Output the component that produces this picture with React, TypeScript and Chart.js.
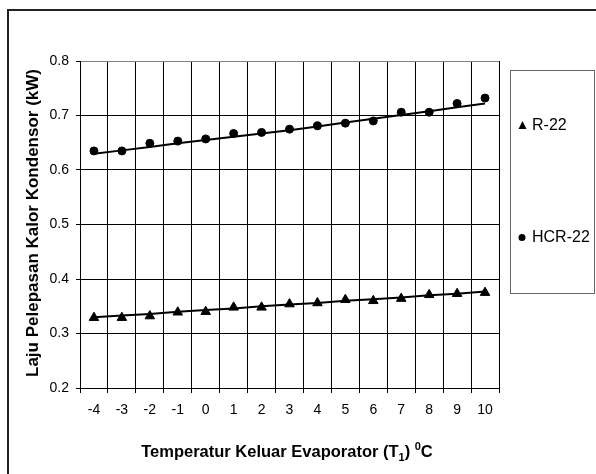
import React, { useEffect, useRef } from "react";
import { Chart, registerables } from "chart.js";

Chart.register(...registerables);

const categories = ["-4", "-3", "-2", "-1", "0", "1", "2", "3", "4", "5", "6", "7", "8", "9", "10"];
const r22Values = [0.329, 0.329, 0.332, 0.339, 0.340, 0.348, 0.348, 0.354, 0.356, 0.362, 0.360, 0.364, 0.371, 0.373, 0.375];
const hcr22Values = [0.635, 0.635, 0.649, 0.653, 0.657, 0.667, 0.669, 0.675, 0.681, 0.686, 0.690, 0.706, 0.706, 0.722, 0.732];
const r22Trend = [0.330, 0.333, 0.336, 0.340, 0.343, 0.346, 0.350, 0.353, 0.356, 0.360, 0.363, 0.366, 0.370, 0.373, 0.377];
const hcr22Trend = [0.630, 0.636, 0.642, 0.649, 0.655, 0.661, 0.667, 0.673, 0.680, 0.687, 0.694, 0.701, 0.708, 0.715, 0.722];
const yMin = 0.2;
const yMax = 0.8;
const yStep = 0.1;
const seriesNames = ["R-22", "HCR-22"];
const yTitle = "Laju Pelepasan Kalor Kondensor (kW)";
const xTitleMain = "Temperatur Keluar Evaporator (T";
const xTitleSub = "1";
const xTitleMid = ") ";
const xTitleSup = "0";
const xTitleEnd = "C";

const FONT = "'Liberation Sans', Arial, sans-serif";

const decorPlugin = {
  id: "decor",
  afterDraw(chart: any) {
    const ctx = chart.ctx as CanvasRenderingContext2D;
    ctx.save();
    // outer frame (left + top edges visible)
    ctx.strokeStyle = "#222";
    ctx.lineWidth = 2;
    ctx.beginPath();
    ctx.moveTo(8, 600);
    ctx.lineTo(8, 10);
    ctx.lineTo(700, 10);
    ctx.stroke();

    // legend box
    ctx.strokeStyle = "#666";
    ctx.lineWidth = 1;
    ctx.strokeRect(510.5, 70.5, 84, 223);

    ctx.fillStyle = "#000";
    // triangle marker
    ctx.beginPath();
    ctx.moveTo(522.5, 121);
    ctx.lineTo(526.5, 129);
    ctx.lineTo(518.5, 129);
    ctx.closePath();
    ctx.fill();
    // circle marker
    ctx.beginPath();
    ctx.arc(522, 237.5, 3.5, 0, Math.PI * 2);
    ctx.fill();

    ctx.font = `16px ${FONT}`;
    ctx.textBaseline = "middle";
    ctx.textAlign = "left";
    ctx.fillText(seriesNames[0], 532, 126);
    ctx.fillText(seriesNames[1], 532, 238);

    // y title
    ctx.save();
    ctx.translate(33, 223);
    ctx.rotate(-Math.PI / 2);
    ctx.font = `bold 17px ${FONT}`;
    ctx.textAlign = "center";
    ctx.textBaseline = "middle";
    ctx.fillText(yTitle, 0, 0);
    ctx.restore();

    // x title
    const mainFont = `bold 16.5px ${FONT}`;
    const smallFont = `bold 11px ${FONT}`;
    ctx.textBaseline = "alphabetic";
    ctx.textAlign = "left";
    ctx.font = mainFont;
    const w1 = ctx.measureText(xTitleMain).width;
    const w3 = ctx.measureText(xTitleMid).width;
    const w5 = ctx.measureText(xTitleEnd).width;
    ctx.font = smallFont;
    const w2 = ctx.measureText(xTitleSub).width;
    const w4 = ctx.measureText(xTitleSup).width;
    const total = w1 + w2 + w3 + w4 + w5;
    let x = 287 - total / 2;
    const base = 457;
    ctx.font = mainFont;
    ctx.fillText(xTitleMain, x, base);
    x += w1;
    ctx.font = smallFont;
    ctx.fillText(xTitleSub, x, base + 4);
    x += w2;
    ctx.font = mainFont;
    ctx.fillText(xTitleMid, x, base);
    x += w3;
    ctx.font = smallFont;
    ctx.fillText(xTitleSup, x, base - 7);
    x += w4;
    ctx.font = mainFont;
    ctx.fillText(xTitleEnd, x, base);
    ctx.restore();
  },
};

export default function App() {
  const canvasRef = useRef<HTMLCanvasElement | null>(null);

  useEffect(() => {
    if (!canvasRef.current) return;
    const chart = new Chart(canvasRef.current, {
      type: "line",
      data: {
        labels: categories,
        datasets: [
          {
            label: seriesNames[0],
            data: r22Values,
            showLine: false,
            pointStyle: "triangle",
            pointRadius: 5.5,
            pointBackgroundColor: "#000",
            pointBorderColor: "#000",
            borderColor: "#000",
            backgroundColor: "#000",
          },
          {
            label: seriesNames[1],
            data: hcr22Values,
            showLine: false,
            pointStyle: "circle",
            pointRadius: 4,
            pointBackgroundColor: "#000",
            pointBorderColor: "#000",
            borderColor: "#000",
            backgroundColor: "#000",
          },
          {
            label: "R-22 trend",
            data: r22Trend,
            borderColor: "#000",
            borderWidth: 2,
            pointRadius: 0,
            tension: 0,
          },
          {
            label: "HCR-22 trend",
            data: hcr22Trend,
            borderColor: "#000",
            borderWidth: 2,
            pointRadius: 0,
            tension: 0,
          },
        ],
      },
      options: {
        animation: false,
        responsive: true,
        maintainAspectRatio: false,
        layout: { padding: { left: 0, top: 61, right: 97, bottom: 0 } },
        plugins: {
          legend: { display: false },
          tooltip: { enabled: false },
          title: { display: false },
        },
        scales: {
          x: {
            offset: true,
            grid: {
              offset: true,
              color: (c: any) => (c.index === categories.length ? "#808080" : "#000"),
              tickColor: "#000",
              tickLength: 5,
              lineWidth: 1,
            },
            border: { color: "#000", width: 1 },
            ticks: {
              color: "#000",
              font: { family: FONT, size: 14 },
              padding: 9,
              maxRotation: 0,
              autoSkip: false,
            },
            afterFit: (s: any) => {
              s.height = 86;
            },
          },
          y: {
            min: yMin,
            max: yMax,
            grid: {
              color: (c: any) => (c.tick && Math.abs(c.tick.value - yMax) < 1e-6 ? "#808080" : "#000"),
              tickColor: "#000",
              tickLength: 4,
              lineWidth: 1,
            },
            border: { color: "#000", width: 1 },
            ticks: {
              stepSize: yStep,
              color: "#000",
              font: { family: FONT, size: 14 },
              padding: 7,
              callback: (v: any) => Number(v).toFixed(1),
            },
            afterFit: (s: any) => {
              s.width = 80;
            },
          },
        },
      },
      plugins: [decorPlugin],
    });
    return () => chart.destroy();
  }, []);

  return (
    <div style={{ position: "fixed", left: 0, top: 0, width: 596, height: 474, background: "#fff" }}>
      <canvas ref={canvasRef} />
    </div>
  );
}
